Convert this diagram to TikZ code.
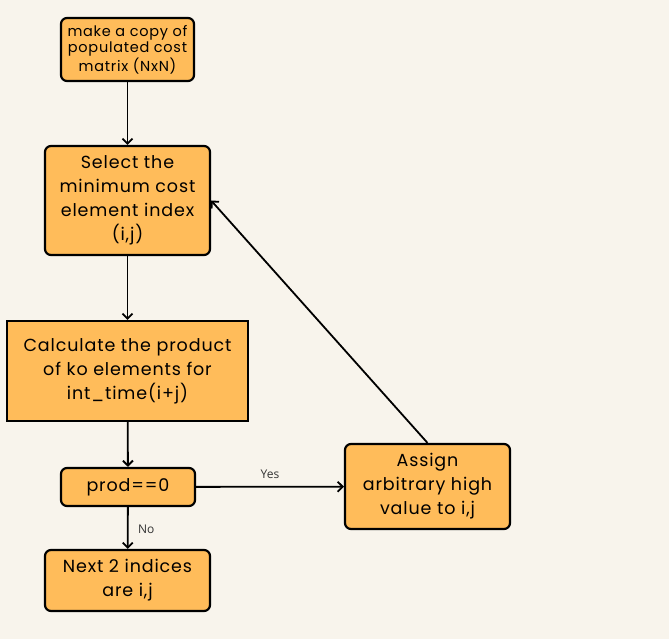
\documentclass[tikz,border=0pt]{standalone}
\usepackage{fontspec}
\setmainfont{Poppins}[LetterSpace=5]
\newfontfamily\labfont{Open Sans}
\usetikzlibrary{arrows.meta}
\definecolor{bg}{HTML}{F8F4EC}
\definecolor{boxfill}{HTML}{FFBC5A}
\tikzset{
  box/.style={draw=black, line width=2.2pt, fill=boxfill, rounded corners=6pt, align=center, inner sep=0pt, font=\fontsize{17.5}{24}\selectfont},
  conn/.style={line width=1.8pt, -{Straight Barb[length=5pt,width=10pt]}},
  lab/.style={font=\labfont\fontsize{12}{14}\selectfont, text=black!80}
}
\begin{document}
\begin{tikzpicture}[x=1pt,y=-1pt]
\fill[bg] (0,0) rectangle (669,639);
\useasboundingbox (0,0) rectangle (669,639);
\node[box, minimum width=133pt, minimum height=63pt, font=\fontsize{14.5}{16.5}\selectfont] (copy) at (127.5,49.5) {make a copy of\\populated cost\\matrix (NxN)};
\node[box, minimum width=165pt, minimum height=109pt] (sel) at (127.5,200.5) {Select the\\minimum cost\\element index\\(i,j)};
\node[box, rounded corners=0pt, minimum width=241pt, minimum height=100pt] (calc) at (127.5,371) {Calculate the product\\of ko elements for\\int\_time(i+j)};
\node[box, minimum width=134pt, minimum height=38pt] (prod) at (128,487) {prod==0};
\node[box, minimum width=165pt, minimum height=61pt] (next) at (127.5,580.5) {Next 2 indices\\are i,j};
\node[box, minimum width=165pt, minimum height=85pt] (assign) at (427.5,486.5) {Assign\\arbitrary high\\value to i,j};
\draw[conn] (copy) -- (sel);
\draw[conn] (sel) -- (calc);
\draw[conn] (calc) -- (prod);
\draw[conn] (prod) -- node[lab, right, xshift=6pt, yshift=-1pt] {No} (next);
\draw[conn] (prod) -- node[lab, above, yshift=4pt] {Yes} (assign);
\draw[conn] (assign.north) -- (sel.east);
\end{tikzpicture}
\end{document}
